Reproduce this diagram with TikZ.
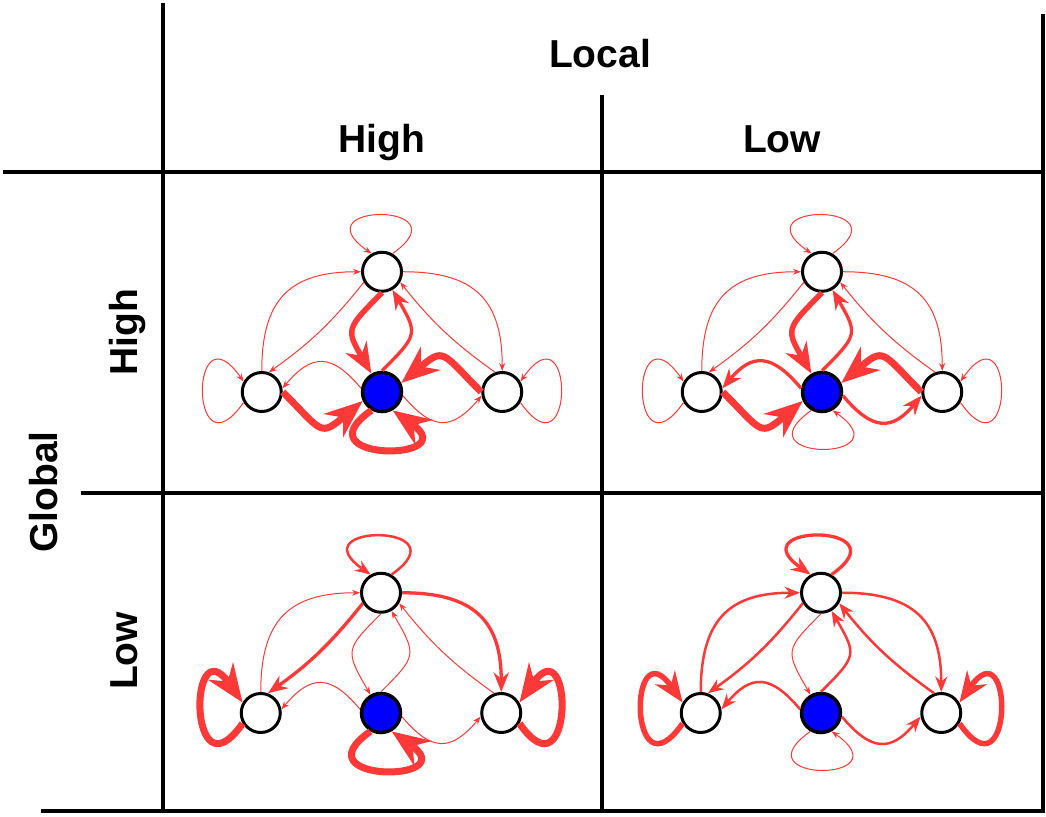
\documentclass[tikz,border=0pt]{standalone}
\usepackage{fontspec}
\setmainfont{Liberation Sans}
\usepackage{tikz}
\usetikzlibrary{arrows.meta, positioning}
\definecolor{netred}{RGB}{255,56,56}
\tikzstyle{state} = [circle, draw=black, line width=3pt, fill=white, minimum size=39pt, inner sep=0pt]
\tikzstyle{hub} = [state, fill=blue, line width=3.5pt]
\tikzstyle{grid} = [line width=3.5pt]
\tikzstyle{head} = [font=\bfseries\fontsize{39}{40}\selectfont, anchor=base, inner sep=0pt]
\tikzstyle{link} = [draw=netred, -{Stealth[length=3pt 5, width=2pt 4]}]
\tikzstyle{w1} = [link, line width=1pt]
\tikzstyle{w2} = [link, line width=2.5pt]
\tikzstyle{w3} = [link, line width=3.3pt]
\tikzstyle{w5} = [link, line width=5.5pt]
\tikzstyle{w6} = [link, line width=7pt]
% shapes of the connectors
\tikzstyle{Tloop} = [out=35, in=145, distance=90pt]
\tikzstyle{Lloop} = [out=235, in=125, distance=95pt]
\tikzstyle{Rloop} = [out=-55, in=55, distance=95pt]
\tikzstyle{Cloop} = [out=215, in=325, distance=90pt]
\tikzstyle{LtoT} = [out=90, in=180, looseness=1.3]
\tikzstyle{TtoL} = [bend left=8]
\tikzstyle{TtoR} = [out=0, in=90, looseness=1.3]
\tikzstyle{RtoT} = [bend left=8]
\tikzstyle{TtoC} = [out=225, in=120, looseness=1.6]
\tikzstyle{CtoT} = [out=45, in=300, looseness=1.6]
\tikzstyle{CtoL} = [out=130, in=50, looseness=1.5]
\tikzstyle{LtoC} = [out=-45, in=220, looseness=1.8]
\tikzstyle{RtoC} = [out=135, in=40, looseness=1.8]
\tikzstyle{CtoR} = [out=-50, in=230, looseness=1.5]
\begin{document}
\begin{tikzpicture}[x=1pt, y=1pt, node distance=78pt]
	\useasboundingbox (0,0) rectangle (1046,816);
	% table
	\draw[grid] (163,813) -- (163,5);
	\draw[grid] (602,721) -- (602,5);
	\draw[grid] (3,644) -- (1043,644);
	\draw[grid] (81,323) -- (1043,323);
	\draw[grid] (41,5) -- (1043,5) -- (1043,802);
	\node[head] (local) at (600,748) {Local};
	\node[head] (lochigh) at (382,663) {High};
	\node[head] (loclow) at (782,663) {Low};
	\node[head, rotate=90] (global) at (57,324) {Global};
	\node[head, rotate=90] (glohigh) at (137,484) {High};
	\node[head, rotate=90] (glolow) at (137,165) {Low};
	% global high, local high
	\node[hub] (c1) at (382,424) {};
	\node[state, above=of c1] (t1) {};
	\node[state, left=of c1] (l1) {};
	\node[state, right=of c1] (r1) {};
	\draw[w1] (t1.60) to[Tloop] (t1.120);
	\draw[w1] (l1.210) to[Lloop] (l1.150);
	\draw[w1] (r1.330) to[Rloop] (r1.30);
	\draw[w6] (c1.240) to[Cloop] (c1.300);
	\draw[w1] (l1.north) to[LtoT] (t1.west);
	\draw[w1] (t1.210) to[TtoL] (l1.70);
	\draw[w1] (t1.east) to[TtoR] (r1.north);
	\draw[w1] (r1.110) to[RtoT] (t1.330);
	\draw[w5] (t1.south) to[TtoC] (c1.120);
	\draw[w3] (c1.north) to[CtoT] (t1.300);
	\draw[w1] (c1.170) to[CtoL] (l1.10);
	\draw[w6] (l1.east) to[LtoC] (c1.205);
	\draw[w6] (r1.west) to[RtoC] (c1.25);
	\draw[w1] (c1.350) to[CtoR] (r1.190);
	% global high, local low
	\node[hub] (c2) at (822,424) {};
	\node[state, above=of c2] (t2) {};
	\node[state, left=of c2] (l2) {};
	\node[state, right=of c2] (r2) {};
	\draw[w1] (t2.60) to[Tloop] (t2.120);
	\draw[w1] (l2.210) to[Lloop] (l2.150);
	\draw[w1] (r2.330) to[Rloop] (r2.30);
	\draw[w1] (c2.240) to[Cloop] (c2.300);
	\draw[w1] (l2.north) to[LtoT] (t2.west);
	\draw[w1] (t2.210) to[TtoL] (l2.70);
	\draw[w1] (t2.east) to[TtoR] (r2.north);
	\draw[w1] (r2.110) to[RtoT] (t2.330);
	\draw[w5] (t2.south) to[TtoC] (c2.120);
	\draw[w3] (c2.north) to[CtoT] (t2.300);
	\draw[w3] (c2.170) to[CtoL] (l2.10);
	\draw[w6] (l2.east) to[LtoC] (c2.205);
	\draw[w6] (r2.west) to[RtoC] (c2.25);
	\draw[w3] (c2.350) to[CtoR] (r2.190);
	% global low, local high
	\node[hub] (c3) at (381,103) {};
	\node[state, above=of c3] (t3) {};
	\node[state, left=of c3] (l3) {};
	\node[state, right=of c3] (r3) {};
	\draw[w2] (t3.60) to[Tloop] (t3.120);
	\draw[w6] (l3.210) to[Lloop] (l3.150);
	\draw[w6] (r3.330) to[Rloop] (r3.30);
	\draw[w6] (c3.240) to[Cloop] (c3.300);
	\draw[w1] (l3.north) to[LtoT] (t3.west);
	\draw[w3] (t3.210) to[TtoL] (l3.70);
	\draw[w3] (t3.east) to[TtoR] (r3.north);
	\draw[w1] (r3.110) to[RtoT] (t3.330);
	\draw[w1] (t3.south) to[TtoC] (c3.120);
	\draw[w1] (c3.north) to[CtoT] (t3.300);
	\draw[w1] (c3.170) to[CtoL] (l3.10);
	\draw[w1] (c3.350) to[CtoR] (r3.190);
	% global low, local low
	\node[hub] (c4) at (821,103) {};
	\node[state, above=of c4] (t4) {};
	\node[state, left=of c4] (l4) {};
	\node[state, right=of c4] (r4) {};
	\draw[w3] (t4.60) to[Tloop] (t4.120);
	\draw[w5] (l4.210) to[Lloop] (l4.150);
	\draw[w5] (r4.330) to[Rloop] (r4.30);
	\draw[w1] (c4.240) to[Cloop] (c4.300);
	\draw[w2] (l4.north) to[LtoT] (t4.west);
	\draw[w2] (t4.210) to[TtoL] (l4.70);
	\draw[w2] (t4.east) to[TtoR] (r4.north);
	\draw[w2] (r4.110) to[RtoT] (t4.330);
	\draw[w1] (t4.south) to[TtoC] (c4.120);
	\draw[w2] (c4.north) to[CtoT] (t4.300);
	\draw[w2] (c4.170) to[CtoL] (l4.10);
	\draw[w2] (c4.350) to[CtoR] (r4.190);
\end{tikzpicture}
\end{document}
